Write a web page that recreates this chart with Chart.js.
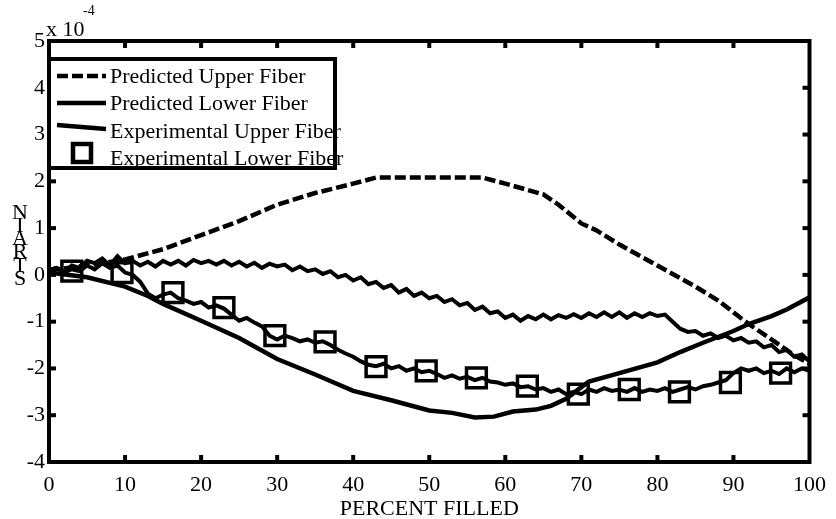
<!DOCTYPE html>
<html>
<head>
<meta charset="utf-8">
<script src="https://cdn.jsdelivr.net/npm/chart.js@4.4.1/dist/chart.umd.min.js"></script>
<style>
html, body { margin: 0; padding: 0; background: #fff; }
</style>
</head>
<body>
<canvas id="strainChart" width="836" height="519"></canvas>
<script>
const serif = "'Liberation Serif', 'Times New Roman', serif"

// predicted curves (percent filled, strain x 1e-4)
const predUpperX = [0, 5, 10, 15, 20, 25, 30, 35, 40, 43, 57, 60, 65, 67, 70, 72, 75, 80, 85, 88, 92, 95, 98, 100]
const predUpperY = [0.1, 0.2, 0.33, 0.55, 0.85, 1.15, 1.5, 1.75, 1.95, 2.08, 2.08, 1.95, 1.72, 1.5, 1.1, 0.95, 0.65, 0.2, -0.25, -0.55, -1.05, -1.38, -1.72, -1.9]
const predLowerX = [0, 5, 10, 13, 15, 20, 25, 30, 35, 40, 45, 50, 53, 56, 58.5, 61, 64, 66, 68, 70, 71, 75, 80, 83, 86, 90, 92, 95, 97, 100]
const predLowerY = [0.05, -0.05, -0.25, -0.45, -0.62, -0.98, -1.35, -1.8, -2.13, -2.48, -2.68, -2.9, -2.95, -3.05, -3.03, -2.92, -2.88, -2.8, -2.65, -2.4, -2.28, -2.1, -1.87, -1.65, -1.45, -1.2, -1.05, -0.88, -0.74, -0.48]

// measured traces, one reading per percent
const expPercent = Array.from({length: 101}, (_, i) => i)
const expUpperY = [
  0.1, 0.15, 0.05, 0.2, 0.15, 0.3, 0.25, 0.35, 0.2, 0.4,
  0.25, 0.3, 0.2, 0.28, 0.18, 0.3, 0.22, 0.3, 0.2, 0.32,
  0.25, 0.3, 0.22, 0.3, 0.2, 0.28, 0.18, 0.26, 0.15, 0.24,
  0.18, 0.22, 0.1, 0.18, 0.08, 0.12, 0.02, 0.08, -0.05, 0.0,
  -0.12, -0.05, -0.2, -0.15, -0.28, -0.22, -0.38, -0.3, -0.45, -0.38,
  -0.5, -0.45, -0.58, -0.52, -0.65, -0.6, -0.75, -0.68, -0.82, -0.78,
  -0.92, -0.85, -0.98, -0.88, -0.95, -0.85, -0.95, -0.86, -0.92, -0.84,
  -0.92, -0.82, -0.9, -0.8, -0.9, -0.8, -0.92, -0.82, -0.9, -0.82,
  -0.88, -0.85, -1.0, -1.15, -1.22, -1.2, -1.3, -1.25, -1.35, -1.3,
  -1.4, -1.35, -1.45, -1.42, -1.55, -1.5, -1.65, -1.6, -1.75, -1.7,
  -1.85
]
const expLowerY = [
  0.1, 0.15, 0.05, 0.12, 0.08, 0.2, 0.12, 0.25, 0.15, 0.2,
  0.05, 0.0, -0.15, -0.4, -0.5, -0.42, -0.38, -0.5, -0.55, -0.62,
  -0.58, -0.7, -0.65, -0.72, -0.85, -0.98, -0.92, -1.02, -1.1, -1.3,
  -1.38, -1.3, -1.35, -1.42, -1.38, -1.45, -1.42, -1.5, -1.6, -1.68,
  -1.75, -1.85, -1.92, -1.95, -1.9, -2.0, -1.95, -2.05, -2.0, -2.08,
  -2.05, -2.12, -2.2, -2.15, -2.22, -2.18, -2.25, -2.2, -2.28, -2.3,
  -2.35, -2.32, -2.4, -2.38, -2.45, -2.42, -2.5, -2.45, -2.55, -2.5,
  -2.55, -2.45, -2.5, -2.42, -2.48, -2.45, -2.5, -2.42, -2.5, -2.45,
  -2.48, -2.42, -2.5, -2.45, -2.4, -2.45, -2.38, -2.35, -2.3, -2.25,
  -2.1, -2.0, -2.05, -2.0, -2.1, -2.05, -2.12, -2.0, -2.08, -2.0,
  -2.05
]
// square markers on the lower measured trace
const markX = [3, 9.6, 16.3, 23, 29.7, 36.3, 43, 49.6, 56.2, 62.9, 69.6, 76.3, 82.9, 89.6, 96.2]
const markY = [0.08, 0.05, -0.38, -0.7, -1.3, -1.43, -1.96, -2.05, -2.2, -2.38, -2.55, -2.45, -2.5, -2.3, -2.1]

const xTicksMinor = [10, 20, 30, 40, 50, 60, 70, 80, 90]
const yTicksMinor = [-3, -2, -1, 0, 1, 2, 3, 4]
const yTitle = ['N', 'I', 'A', 'R', 'T', 'S']

function pts(xs, ys) {
    return xs.map((x, i) => ({x: x, y: ys[i]}))
}

const lineBase = {borderColor: '#000', borderWidth: 4.5, pointRadius: 0, fill: false, tension: 0}

const datasets = [
    Object.assign({label: 'Predicted Upper Fiber', data: pts(predUpperX, predUpperY)}, lineBase, {borderDash: [11, 4]}),
    Object.assign({label: 'Predicted Lower Fiber', data: pts(predLowerX, predLowerY)}, lineBase),
    Object.assign({label: 'Experimental Upper Fiber', data: pts(expPercent, expUpperY)}, lineBase, {borderWidth: 4}),
    {label: 'Experimental Lower Fiber', data: pts(markX, markY), showLine: false, pointStyle: 'rect',
        pointRadius: 14, borderWidth: 3.5, borderColor: '#000', backgroundColor: 'rgba(0,0,0,0)'},
    Object.assign({label: '', data: pts(expPercent, expLowerY)}, lineBase, {borderWidth: 4})
]

// box, inward ticks, axis titles and legend, drawn like the old matlab figure
const figureDecor = {
    id: 'figureDecor',
    afterDraw(chart) {
        const ctx = chart.ctx
        const a = chart.chartArea
        const xs = chart.scales.x, ys = chart.scales.y
        ctx.save()
        ctx.strokeStyle = '#000'
        ctx.lineWidth = 4
        ctx.strokeRect(a.left, a.top, a.right - a.left, a.bottom - a.top)
        xTicksMinor.forEach(v => {
            const p = xs.getPixelForValue(v)
            ctx.beginPath(); ctx.moveTo(p, a.bottom); ctx.lineTo(p, a.bottom - 7); ctx.stroke()
            ctx.beginPath(); ctx.moveTo(p, a.top); ctx.lineTo(p, a.top + 7); ctx.stroke()
        })
        yTicksMinor.forEach(v => {
            const p = ys.getPixelForValue(v)
            ctx.beginPath(); ctx.moveTo(a.left, p); ctx.lineTo(a.left + 7, p); ctx.stroke()
            ctx.beginPath(); ctx.moveTo(a.right, p); ctx.lineTo(a.right - 7, p); ctx.stroke()
        })

        ctx.fillStyle = '#000'
        ctx.textBaseline = 'middle'
        ctx.textAlign = 'center'
        ctx.font = '22px ' + serif
        yTitle.forEach((c, i) => ctx.fillText(c, 20, 213 + i * 13.2))

        ctx.textAlign = 'left'
        ctx.fillText('x 10', 46, 30)
        ctx.font = '14px ' + serif
        ctx.fillText('-4', 83, 11)

        // legend box
        const lx = a.left, ly = 59, lw = 286, lh = 109
        ctx.fillStyle = '#fff'
        ctx.fillRect(lx, ly, lw, lh)
        ctx.fillStyle = '#000'
        ctx.font = '22px ' + serif
        const rows = [76, 103, 131, 158]
        chart.data.datasets.slice(0, 4).forEach((ds, i) => {
            const y = rows[i]
            ctx.lineWidth = 4.5
            if (i === 3) {
                ctx.strokeRect(73, y - 14, 18, 18)
            } else if (i === 2) {
                ctx.beginPath(); ctx.moveTo(57, y - 6); ctx.lineTo(106, y - 2); ctx.stroke()
            } else {
                ctx.setLineDash(ds.borderDash || [])
                ctx.beginPath(); ctx.moveTo(57, y); ctx.lineTo(106, y); ctx.stroke()
                ctx.setLineDash([])
            }
            ctx.fillText(ds.label, 110, y + 1)
        })
        ctx.lineWidth = 4
        ctx.strokeRect(lx, ly, lw, lh)
        ctx.restore()
    }
}

const tickFont = {family: serif, size: 22}

const strainChart = new Chart(document.getElementById('strainChart').getContext('2d'), {
    type: 'line',
    data: {datasets: datasets},
    options: {
        responsive: false,
        animation: false,
        layout: {padding: {left: 0, right: 21, top: 41, bottom: 0}},
        plugins: {legend: {display: false}, tooltip: {enabled: false}},
        scales: {
            x: {
                type: 'linear', min: 0, max: 100,
                ticks: {stepSize: 10, color: '#000', font: tickFont, padding: 10, maxRotation: 0, autoSkip: false},
                grid: {display: false, drawTicks: false},
                border: {display: false},
                title: {display: true, text: 'PERCENT FILLED', color: '#000', font: {family: serif, size: 22, lineHeight: 1}, padding: {top: 0, bottom: -1}},
                afterFit(s) { s.height = 57 }
            },
            y: {
                min: -4, max: 5,
                ticks: {stepSize: 1, color: '#000', font: tickFont, padding: 4, autoSkip: false},
                grid: {display: false, drawTicks: false},
                border: {display: false},
                afterFit(s) { s.width = 49 }
            }
        }
    },
    plugins: [figureDecor]
})
</script>
</body>
</html>
